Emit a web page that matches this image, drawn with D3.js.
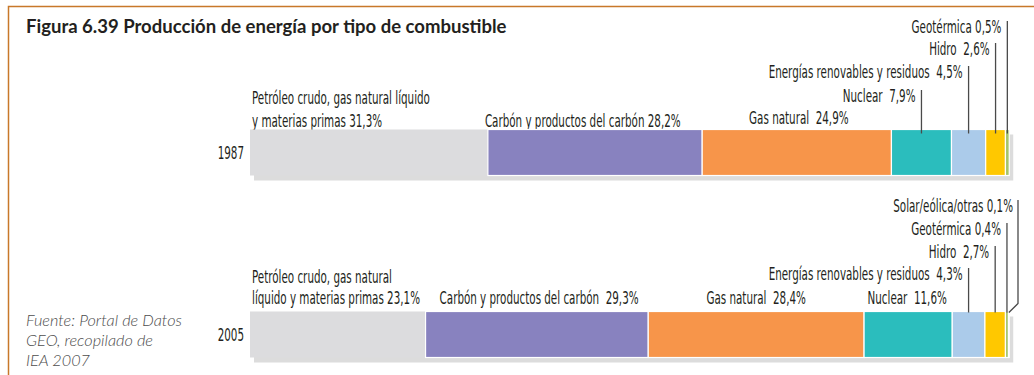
<!DOCTYPE html>
<html>
<head>
<meta charset="utf-8">
<script src="https://cdn.jsdelivr.net/npm/d3@7"></script>
<style>
  body { margin: 0; background: #fff; }
  svg text { white-space: pre; }
</style>
</head>
<body>
<svg id="chart" width="1034" height="375"></svg>
<script>
// ---- data ----
const years = ["1987", "2005"];
const categories = ["Petróleo crudo, gas natural líquido y materias primas",
  "Carbón y productos del carbón", "Gas natural", "Nuclear",
  "Energías renovables y residuos", "Hidro", "Geotérmica", "Solar/eólica/otras"];
const values1987 = [31.3, 28.2, 24.9, 7.9, 4.5, 2.6, 0.5, 0];
const values2005 = [23.1, 29.3, 28.4, 11.6, 4.3, 2.7, 0.4, 0.1];
const colors = ["#dcdcde", "#8882bf", "#f7954a", "#2bbdbd", "#abcbea", "#ffc800", "#a6c46a", "#f5b6c8"];
const title = "Figura 6.39 Producción de energía por tipo de combustible";
const source = ["Fuente: Portal de Datos", "GEO, recopilado de", "IEA 2007"];

// label placement per year: how each segment is annotated
const labels1987 = [
  { lines: ["Petróleo crudo, gas natural líquido", "y materias primas"], sep: " ", mode: "start", dx: 2, base: [104, 127] },
  { sep: " ", mode: "start", dx: -3, base: [127] },
  { sep: "  ", mode: "middle", dx: 2, base: [124] },
  { sep: "  ", mode: "leader", base: [102] },
  { sep: "  ", mode: "leader", base: [78] },
  { sep: "  ", mode: "leader", base: [55] },
  { sep: " ", mode: "leader", base: [33] },
  null
];
const labels2005 = [
  { lines: ["Petróleo crudo, gas natural", "líquido y materias primas"], sep: " ", mode: "start", dx: 2, base: [283, 304] },
  { sep: "  ", mode: "start", dx: 14, base: [304] },
  { sep: "  ", mode: "middle", dx: 0, base: [304] },
  { sep: "  ", mode: "middle", dx: -1, base: [304] },
  { sep: "  ", mode: "leader", base: [280] },
  { sep: "  ", mode: "leader", base: [258] },
  { sep: " ", mode: "leader", base: [235] },
  { sep: " ", mode: "elbow", base: [212], elbowX: 1018 }
];
const series = [
  { year: "1987", values: values1987, labels: labels1987, leaderDip: 4 },
  { year: "2005", values: values2005, labels: labels2005, leaderDip: 1 }
];

// ---- drawing ----
const svg = d3.select("#chart");
const labelFont = "'Liberation Sans Narrow', 'DejaVu Sans Condensed', 'Roboto Condensed', sans-serif";
const ink = "#231f20";

const x = d3.scaleLinear().domain([0, 100]).range([250, 1010]);
const y = d3.scalePoint().domain(years).range([152.5, 334.5]);
const barH = 46;
const fmt = v => v.toFixed(1).replace(".", ",") + "%";

// frame
svg.append("path")
  .attr("d", "M8.5,375 V6.5 H1034")
  .attr("fill", "none").attr("stroke", "#c8782a").attr("stroke-width", 1.5);

// title
const titleText = svg.append("text")
  .attr("font-family", "Lato, 'Open Sans', sans-serif")
  .attr("font-weight", 700).attr("font-size", 18).attr("fill", ink)
  .text(title);

// source note
const src = svg.append("g")
  .attr("font-family", "Lato, 'Open Sans', sans-serif")
  .attr("font-style", "italic").attr("font-weight", 300)
  .attr("font-size", 15).attr("fill", "#4d4d4d");
src.selectAll("text").data(source).join("text")
  .attr("class", "src")
  .attr("data-x", 26).attr("data-y", (d, i) => 326 + i * 20)
  .text(d => d);

const labelG = svg.append("g")
  .attr("font-family", labelFont).attr("font-stretch", "condensed")
  .attr("font-size", 17).attr("fill", ink);

function addLabel(tx, ty, anchor, str) {
  return labelG.append("text").attr("class", "lbl")
    .attr("data-x", tx).attr("data-y", ty)
    .attr("text-anchor", anchor)
    .text(str);
}

series.forEach(s => {
  const cy = y(s.year);
  const top = cy - barH / 2;
  let acc = 0;
  const segs = s.values.map((v, i) => {
    const seg = { i, v, x0: acc, x1: acc + v, label: s.labels[i] };
    acc += v;
    return seg;
  });

  // drop shadow behind the bar
  svg.insert("rect", "g")
    .attr("x", x(0) + 4).attr("y", top + 5)
    .attr("width", x(acc) - x(0)).attr("height", barH)
    .attr("fill", "#dcdcdc");

  // stacked segments
  svg.append("g").selectAll("rect").data(segs.filter(d => d.v > 0)).join("rect")
    .attr("x", d => x(d.x0)).attr("y", top)
    .attr("width", d => x(d.x1) - x(d.x0)).attr("height", barH)
    .attr("fill", d => colors[d.i])
    .attr("stroke", "#fff").attr("stroke-width", d => d.i === 0 ? 0 : 1.2);

  // year label
  addLabel(244, cy + 6.5, "end", s.year);

  // annotations
  const leaders = svg.append("g")
    .attr("stroke", "#4a4a4a").attr("stroke-width", 1.3).attr("fill", "none");

  segs.forEach(d => {
    const L = d.label;
    if (!L) return;
    const lines = (L.lines ? L.lines.slice() : [categories[d.i]]);
    lines[lines.length - 1] += L.sep + fmt(d.v);
    const mid = (x(d.x0) + x(d.x1)) / 2;
    let tx, anchor;
    if (L.mode === "start") { tx = x(d.x0) + L.dx; anchor = "start"; }
    else if (L.mode === "middle") { tx = mid + L.dx; anchor = "middle"; }
    else if (L.mode === "leader") { tx = mid - 6; anchor = "end"; }
    else { tx = L.elbowX - 5; anchor = "end"; }

    lines.forEach((ln, k) => addLabel(tx, L.base[k], anchor, ln));

    const capTop = L.base[0] - 12;
    if (L.mode === "leader") {
      leaders.append("line")
        .attr("x1", mid).attr("x2", mid)
        .attr("y1", capTop).attr("y2", top + s.leaderDip);
    } else if (L.mode === "elbow") {
      leaders.append("path")
        .attr("d", `M${L.elbowX},${capTop} V${top - 8} L${mid},${top + s.leaderDip}`);
    }
  });
});

// narrow the faces horizontally to the figure's condensed proportions
function squeeze(sel, kx) {
  sel.each(function () {
    const t = d3.select(this);
    t.attr("transform", `translate(${+t.attr("data-x")},${+t.attr("data-y")}) scale(${kx},1)`);
  });
}
const ref = labelG.selectAll("text.lbl").filter(function () {
  return this.textContent === "Carbón y productos del carbón 28,2%";
}).node();
squeeze(labelG.selectAll("text.lbl"), 196 / ref.getComputedTextLength());
squeeze(src.selectAll("text.src"), 156 / src.select("text").node().getComputedTextLength());
titleText.attr("data-x", 26).attr("data-y", 33);
squeeze(titleText, 481 / titleText.node().getComputedTextLength());
</script>
</body>
</html>
